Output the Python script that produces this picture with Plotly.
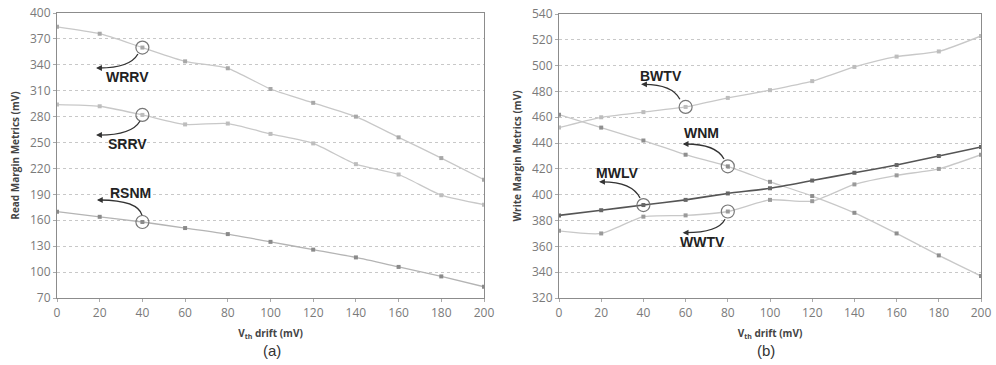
import plotly.graph_objects as go

vth = [0, 20, 40, 60, 80, 100, 120, 140, 160, 180, 200]

# Panel (a): read margin metrics (mV)
wrrv = [384, 376, 360, 344, 336, 312, 296, 280, 256, 232, 207]
srrv = [294, 292, 282, 271, 272, 260, 249, 225, 213, 189, 178]
rsnm = [170, 164, 158, 151, 144, 135, 126, 117, 106, 95, 83]

# Panel (b): write margin metrics (mV)
bwtv = [452, 460, 464, 468, 475, 481, 488, 499, 507, 511, 523]
wnm = [462, 452, 442, 431, 422, 410, 399, 386, 370, 353, 337]
mwlv = [384, 388, 392, 396, 401, 405, 411, 417, 423, 430, 437]
wwtv = [372, 370, 383, 384, 387, 396, 395, 408, 415, 420, 431]

x_ticks = [0, 20, 40, 60, 80, 100, 120, 140, 160, 180, 200]
ya_ticks = [70, 100, 130, 160, 190, 220, 250, 280, 310, 340, 370, 400]
yb_ticks = [320, 340, 360, 380, 400, 420, 440, 460, 480, 500, 520, 540]

# Callouts: label, panel, series, point index, label pos, arrow tail, control, head
callouts = [
    ("WRRV", 1, wrrv, 2, (32.8, 326), (37.9, 352.5), (34.2, 336.3), (18.3, 336.3)),
    ("SRRV", 1, srrv, 2, (32.8, 248.3), (38.9, 275), (35.1, 258.7), (18.3, 258.7)),
    ("RSNM", 1, rsnm, 2, (34.2, 192), (39.8, 166), (37.9, 183), (18.7, 183.5)),
    ("BWTV", 2, bwtv, 3, (48.3, 492), (57.3, 474), (53.6, 485.5), (38.9, 485.5)),
    ("WNM", 2, wnm, 4, (67.3, 448), (78.2, 427.7), (74.4, 439.3), (58.6, 439.3)),
    ("MWLV", 2, mwlv, 2, (27.5, 417), (38.4, 397.5), (34.6, 410), (19, 410)),
    ("WWTV", 2, wwtv, 4, (68.2, 363.6), (78.7, 381), (75.4, 370.6), (58.6, 370.6)),
]

W, H = 996, 365
def px(X):
    return X / W
def py(Y):
    return 1 - Y / H

fig = go.Figure()

light = "#c8c8c8"

def add(series, ax, line_color, marker_color, width=1.3):
    fig.add_trace(go.Scatter(
        x=vth, y=series, mode="lines+markers",
        line=dict(color=line_color, width=width, shape="spline", smoothing=0.6),
        marker=dict(symbol="square", size=4, color=marker_color),
        xaxis="x" if ax == 1 else "x2", yaxis="y" if ax == 1 else "y2",
        showlegend=False, hoverinfo="skip"))

add(wrrv, 1, light, "#a8a8a8")
add(srrv, 1, light, "#bdbdbd")
add(rsnm, 1, "#b4b4b4", "#8a8a8a")
add(bwtv, 2, light, "#bdbdbd")
add(wnm, 2, light, "#8f8f8f")
add(wwtv, 2, light, "#9a9a9a")
add(mwlv, 2, "#555555", "#666666", 1.6)

shapes = []
annotations = []
for label, ax, series, idx, lab, tail, ctrl, head in callouts:
    xr = "x" if ax == 1 else "x2"
    yr = "y" if ax == 1 else "y2"
    shapes.append(dict(type="circle", xref=xr, yref=yr, xsizemode="pixel", ysizemode="pixel",
                       xanchor=vth[idx], yanchor=series[idx], x0=-6.5, x1=6.5, y0=-6.5, y1=6.5,
                       line=dict(color="#777777", width=1.2)))
    shapes.append(dict(type="path", xref=xr, yref=yr,
                       path=f"M {tail[0]},{tail[1]} Q {ctrl[0]},{ctrl[1]} {head[0]+1.5},{head[1]}",
                       line=dict(color="#333333", width=1.3)))
    annotations.append(dict(x=head[0], y=head[1], xref=xr, yref=yr, ax=7, ay=0,
                            showarrow=True, arrowhead=2, arrowsize=0.9, arrowwidth=1.3,
                            arrowcolor="#333333", text=""))
    annotations.append(dict(x=lab[0], y=lab[1], xref=xr, yref=yr, showarrow=False,
                            text=f"<b>{label}</b>",
                            font=dict(family="Liberation Sans", size=14, color="#222222")))

annotations.append(dict(x=px(272), y=py(350), xref="paper", yref="paper", showarrow=False,
                        yanchor="middle", xanchor="center",
                        text="(a)", font=dict(family="Liberation Sans", size=15, color="#333333")))
annotations.append(dict(x=px(766), y=py(350), xref="paper", yref="paper", showarrow=False,
                        yanchor="middle", xanchor="center",
                        text="(b)", font=dict(family="Liberation Sans", size=15, color="#333333")))

tickfont = dict(family="Open Sans", size=12, color="#7a7a7a")
titlefont = dict(family="Open Sans", size=10, color="#444444", weight="bold")

xcommon = dict(range=[0, 200], tickvals=x_ticks, ticks="outside", ticklen=3, tickcolor="#aaaaaa",
               showgrid=False, showline=True, linecolor="#8c8c8c", linewidth=1.2, mirror=True,
               zeroline=False, tickfont=tickfont, automargin=False,
               title=dict(text="V<sub>th</sub> drift (mV)", font=titlefont, standoff=10))
ycommon = dict(showgrid=True, gridcolor="#c8c8c8", griddash="dot", gridwidth=1,
               showline=True, linecolor="#8c8c8c", linewidth=1.2, mirror=True, zeroline=False,
               ticks="outside", ticklen=3, tickcolor="#aaaaaa", tickfont=tickfont,
               automargin=False, ticklabeloverflow="allow")

fig.update_layout(
    width=W, height=H, margin=dict(l=0, r=0, t=0, b=0),
    paper_bgcolor="white", plot_bgcolor="white",
    xaxis=dict(domain=[px(57), px(484)], anchor="y", **xcommon),
    yaxis=dict(domain=[py(298), py(13)], range=[70, 400], tickvals=ya_ticks,
               title=dict(text="Read Margin Metrics (mV)", font=titlefont, standoff=8),
               anchor="x", **ycommon),
    xaxis2=dict(domain=[px(559), px(981)], anchor="y2", **xcommon),
    yaxis2=dict(domain=[py(298), py(14)], range=[320, 540], tickvals=yb_ticks,
                title=dict(text="Write Margin Metrics (mV)", font=titlefont, standoff=8),
                anchor="x2", **ycommon),
    shapes=shapes, annotations=annotations,
)

fig.write_html("out.html", config={"displayModeBar": False},
               post_script="document.body.style.margin='0';document.body.style.overflow='hidden';")
